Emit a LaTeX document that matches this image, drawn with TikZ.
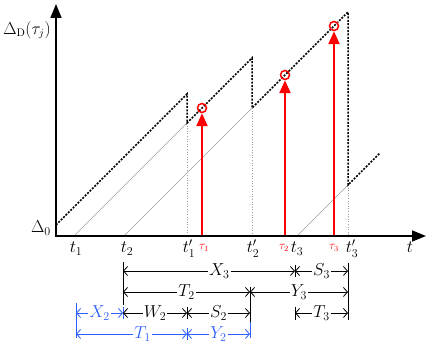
\documentclass[tikz,border=0pt]{standalone}
\usepackage{xcolor}
\definecolor{axblue}{RGB}{45,95,255}
\definecolor{axred}{RGB}{255,0,0}
\usetikzlibrary{arrows.meta}

\begin{document}
\begin{tikzpicture}[x=1pt,y=-1pt,
  axis/.style={line width=1.7pt,{Triangle[length=14pt,width=11pt]}-{Triangle[length=14pt,width=11pt]}},
  age/.style={dash pattern=on 2pt off 1.4pt,line width=1.5pt},
  gline/.style={gray!75,line width=0.6pt},
  gdot/.style={gray!75,dotted,line width=0.6pt},
  upd/.style={axred,line width=2.4pt,-{Triangle[length=13pt,width=11pt]}},
  circ/.style={circle,draw=axred,line width=1.5pt,minimum size=9pt,inner sep=0pt},
  span/.style={{Straight Barb[length=4pt,width=9pt]}-{Straight Barb[length=4pt,width=9pt]},line width=0.8pt},
  lbl/.style={fill=white,inner sep=1pt,font=\fontsize{17}{19}\selectfont},
  tk/.style={anchor=base,font=\fontsize{17}{19}\selectfont},
  rtk/.style={anchor=base,axred,font=\fontsize{12}{14}\selectfont}]
  \useasboundingbox (0,0) rectangle (429,347);
  % axes points
  \coordinate (O) at (56,236);
  \coordinate (ytop) at (56,4);
  \coordinate (xend) at (426,236);
  % sawtooth points
  \coordinate (a0) at (56,225);
  \coordinate (t1) at (74,236);
  \coordinate (t2) at (124,236);
  \coordinate (t3) at (297,236);
  \coordinate (p1) at (187,94);
  \coordinate (q1) at (187,123);
  \coordinate (b1) at (187,236);
  \coordinate (p2) at (252,58);
  \coordinate (q2) at (252,108);
  \coordinate (b2) at (252,236);
  \coordinate (p3) at (348,12);
  \coordinate (q3) at (348,185);
  \coordinate (b3) at (348,236);
  \coordinate (e3) at (380,153);
  % gray ramps
  \draw[gline] (t1) -- (q1);
  \draw[gline] (t2) -- (q2);
  \draw[gline] (t3) -- (q3);
  \draw[gdot] (q1) -- (b1);
  \draw[gdot] (q2) -- (b2);
  \draw[gdot] (q3) -- (b3);
  % age curve
  \draw[age] (a0) -- (p1) -- (q1) -- (p2) -- (q2) -- (p3) -- (q3) -- (e3);
  % updates
  \node[circ] (c1) at (202,108) {};
  \node[circ] (c2) at (285,75) {};
  \node[circ] (c3) at (334,26) {};
  \coordinate (u1) at (202,236);
  \coordinate (u2) at (285,236);
  \coordinate (u3) at (334,236);
  \draw[upd] (u1) -- (c1.south);
  \draw[upd] (u2) -- (c2.south);
  \draw[upd] (u3) -- (c3.south);
  % axes
  \draw[axis] (ytop) -- (O) -- (xend);
  \node[font=\fontsize{16}{18}\selectfont] (ylab) at (27,30) {$\Delta_{\mathrm{D}}\bigl(\tau_j\bigr)$};
  \node[font=\fontsize{17}{19}\selectfont] (d0) at (41,228) {$\Delta_0$};
  % tick labels
  \node[tk] (lt1) at (76,253) {$t_1$};
  \node[tk] (lt2) at (127,253) {$t_2$};
  \node[tk] (lp1) at (189,253) {$t'_1$};
  \node[tk] (lp2) at (253,253) {$t'_2$};
  \node[tk] (lt3) at (297,253) {$t_3$};
  \node[tk] (lp3) at (352,253) {$t'_3$};
  \node[tk] (lt) at (410,253) {$t$};
  \node[rtk] (lu1) at (204,250) {$\tau_1$};
  \node[rtk] (lu2) at (284,250) {$\tau_2$};
  \node[rtk] (lu3) at (334,250) {$\tau_3$};
  % interval columns and rows
  \coordinate (ka) at (76,0);
  \coordinate (kb) at (123,0);
  \coordinate (kc) at (187,0);
  \coordinate (kd) at (250,0);
  \coordinate (ke) at (295,0);
  \coordinate (kf) at (348,0);
  \coordinate (r1) at (0,271);
  \coordinate (r2) at (0,292);
  \coordinate (r3) at (0,313);
  \coordinate (r4) at (0,334);
  % guide lines
  \draw[line width=0.9pt] (123,262) -- (123,305);
  \draw[line width=0.9pt] (348,263) -- (348,320);
  \draw[line width=0.9pt] (250,287) -- (250,322);
  \draw[line width=0.9pt] (295,307) -- (295,320);
  \draw[axblue,line width=0.9pt] (250,322) -- (250,338);
  \draw[axblue,line width=0.9pt] (76,303) -- (76,338);
  % junction ticks
  \draw[line width=0.8pt] (295,265) -- (295,277);
  \draw[line width=0.8pt] (187,307) -- (187,319);
  \draw[axblue,line width=0.8pt] (187,328) -- (187,340);
  \draw[axblue,line width=0.8pt] (123,307) -- (123,319);
  % spans
  \draw[span] (kb|-r1) -- node[lbl,pos=0.56] (x3) {$X_3$} (ke|-r1);
  \draw[span] (ke|-r1) -- node[lbl] (s3) {$S_3$} (kf|-r1);
  \draw[span] (kb|-r2) -- node[lbl] (tt2) {$T_2$} (kd|-r2);
  \draw[span] (kd|-r2) -- node[lbl] (y3) {$Y_3$} (kf|-r2);
  \draw[span] (kb|-r3) -- node[lbl] (w2) {$W_2$} (kc|-r3);
  \draw[span] (kc|-r3) -- node[lbl] (s2) {$S_2$} (kd|-r3);
  \draw[span] (ke|-r3) -- node[lbl] (tt3) {$T_3$} (kf|-r3);
  \draw[span,axblue] (ka|-r3) -- node[lbl,text=axblue] (x2) {$X_2$} (kb|-r3);
  \draw[span,axblue] (ka|-r4) -- node[lbl,text=axblue,pos=0.6] (tt1) {$T_1$} (kc|-r4);
  \draw[span,axblue] (kc|-r4) -- node[lbl,text=axblue] (y2) {$Y_2$} (kd|-r4);
\end{tikzpicture}
\end{document}
